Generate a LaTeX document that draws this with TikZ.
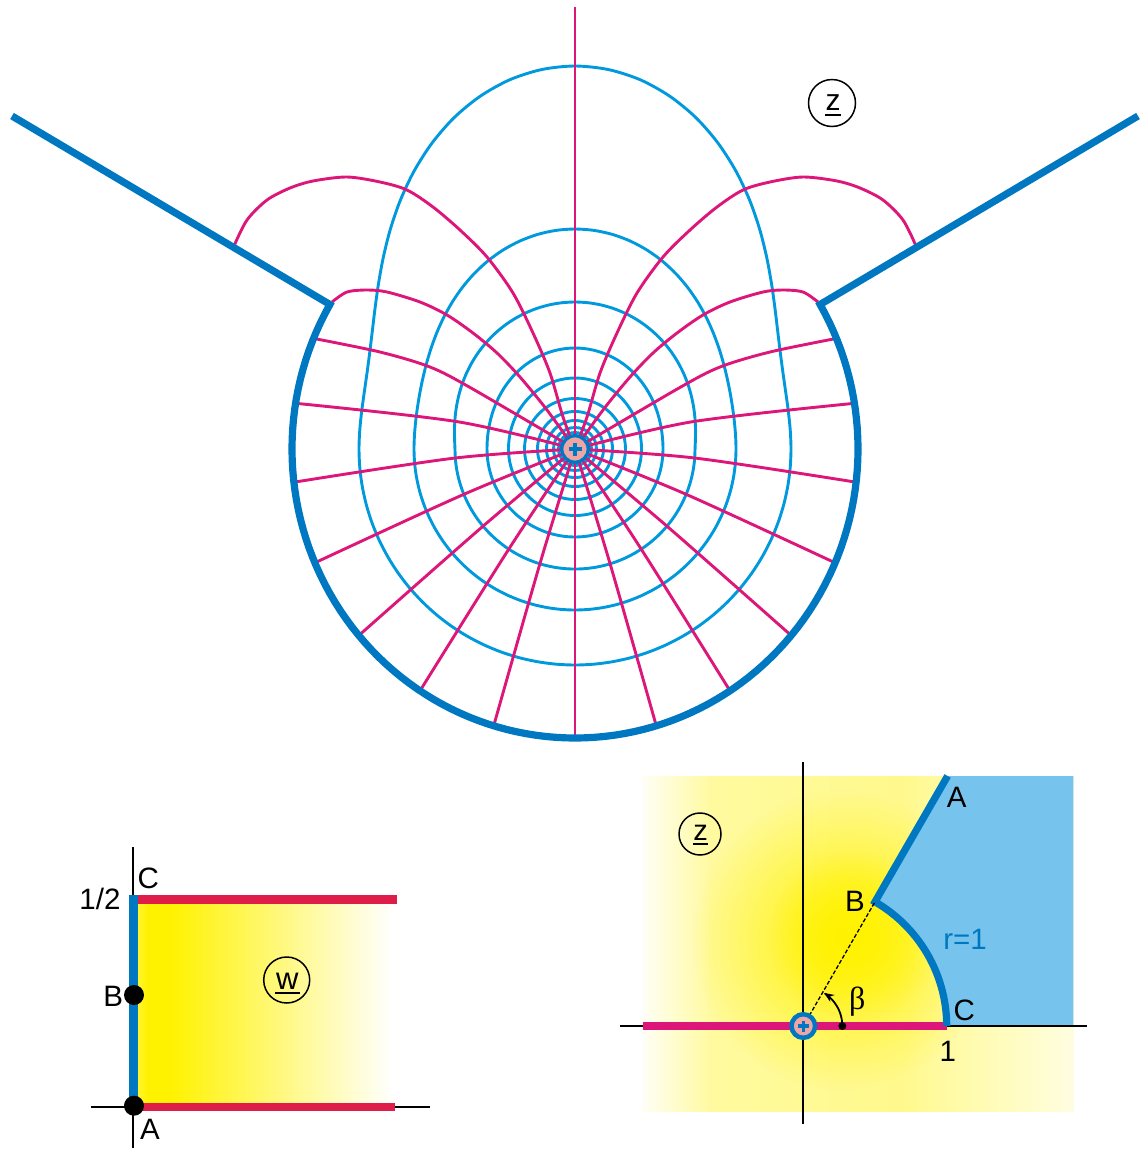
\documentclass[tikz,border=0pt]{standalone}
\usepackage{fontspec}
\setmainfont{Liberation Sans}
\newfontfamily\grkserif{Liberation Serif}
\usetikzlibrary{arrows.meta,fadings}
\definecolor{condblue}{RGB}{0,120,193}
\definecolor{equiblue}{RGB}{0,153,221}
\definecolor{fieldmag}{RGB}{221,22,122}
\definecolor{redline}{RGB}{222,30,72}
\definecolor{yel}{RGB}{255,242,0}
\definecolor{skyblue}{RGB}{118,196,238}
\definecolor{chargepink}{RGB}{240,165,165}
\pgfdeclarehorizontalshading{yhor}{100bp}{color(0bp)=(yel!80!white); color(25bp)=(yel!80!white); color(27bp)=(yel); color(31.5bp)=(yel); color(75bp)=(white); color(100bp)=(white)}
\pgfdeclarehorizontalshading{ybase}{100bp}{color(0bp)=(white); color(25bp)=(yel!4!white); color(33bp)=(yel!38!white); color(55bp)=(yel!45!white); color(75bp)=(yel!12!white); color(100bp)=(yel!12!white)}
\tikzfading[name=spotfade, inner color=transparent!0, outer color=transparent!100]
\tikzset{
  equi/.style={equiblue, line width=2.9},
  fline/.style={fieldmag, line width=2.9},
  cond/.style={condblue, line width=7.2, line join=miter},
  axisline/.style={black, line width=2},
  lbl/.style={inner sep=0, font=\fontsize{29.5}{33}\selectfont},
}
\newcommand\fieldhalf{%
\draw[fline] plot[smooth] coordinates {(575,449) (539.9,563.8) (493.7,725.8)};
\draw[fline] plot[smooth] coordinates {(575,449) (508.8,549.1) (420,690.8)};
\draw[fline] plot[smooth] coordinates {(575,449) (483.1,526.1) (358.8,635.5)};
\draw[fline] plot[smooth] coordinates {(575,449) (463.9,494.3) (314.9,562.8)};
\draw[fline] plot[smooth] coordinates {(575,449) (455.3,458) (293.9,482.2)};
\draw[fline] plot[smooth] coordinates {(575,449) (458.1,421.8) (295.6,403.3)};
\draw[fline] plot[smooth] coordinates {(575,449) (471,388) (430,367) (380,352) (313.5,338.4)};
\draw[fline] plot[smooth] coordinates {(575,449) (547,410) (520,377) (497,353) (473,333) (447,315) (420,302) (387,292) (367,290) (347,292) (332,302)};
\draw[fline] plot[smooth] coordinates {(575,449) (563,417) (550,373) (533,333) (513,293) (487,257) (460,230) (433,207) (407,190) (380,182) (347,177) (313,181) (290,188) (267,200) (247,220) (234,246)};
}
\begin{document}
\begin{tikzpicture}[x=1pt,y=-1pt]
\useasboundingbox (0,0) rectangle (1143,1149);
% ---------- top figure: equipotentials ----------
\foreach \ea/\et/\ep in {216/383/3.2,161/220/2.5,120/147/1.4,88/101/2,66.5/71/2}{
  \draw[equi] plot[smooth cycle, domain=0:355, samples=72, variable=\q]
   ({575+(\ea+(\et-\ea)*pow(max(sin(\q),0.01),\ep))*cos(\q)},{449-(\ea+(\et-\ea)*pow(max(sin(\q),0.01),\ep))*sin(\q)});
}
\foreach \r in {50.5,37.5,28.5,21.5,16.5}{\draw[equi] (575,449) circle (\r);}
% ---------- field lines ----------
\fieldhalf
\begin{scope}[shift={(1150,0)}, xscale=-1]
\fieldhalf
\end{scope}
\coordinate (vtop) at (575,7);
\coordinate (vbot) at (575,738);
\draw[fline] (vbot) -- (vtop);
% ---------- conductor ----------
\coordinate (rayL) at (12,116);
\coordinate (rayR) at (1138,116);
\draw[cond] (rayL) -- plot[domain=150:390, samples=121, variable=\q] ({575+283*cos(\q)},{449-289*sin(\q)}) -- (rayR);
% ---------- charge ----------
\filldraw[fill=chargepink, draw=condblue, line width=3.4] (575,449) circle (13.3);
\draw[condblue, line width=4] (568.5,449) -- (581.5,449) (575,442.5) -- (575,455.5);
% ---------- circled z (top) ----------
\node[draw, circle, line width=1.5, minimum size=47, inner sep=0] (zc1) at (832,103) {};
\node[anchor=base, inner sep=0, font=\fontsize{30}{32}\selectfont] (zl1) at (833,110.5) {z};
\draw[line width=2] (825,115) -- (841,115);

% ---------- bottom-left: w plane ----------
\shade[shading=yhor] (137,903) rectangle (393,1103);
\coordinate (wv1) at (133,847);
\coordinate (wv2) at (133,1148);
\coordinate (wh1) at (91,1107);
\coordinate (wh2) at (430,1107);
\draw[axisline] (wv1) -- (wv2);
\draw[axisline] (wh1) -- (wh2);
\coordinate (wC) at (137,899.3);
\coordinate (wCe) at (397,899.3);
\coordinate (wA) at (137,1107.3);
\coordinate (wAe) at (395,1107.3);
\draw[redline, line width=9] (wC) -- (wCe);
\draw[redline, line width=8] (wA) -- (wAe);
\coordinate (wtop) at (133.3,895);
\coordinate (wbot) at (133.3,1105);
\draw[condblue, line width=8.5] (wtop) -- (wbot);
\fill (134,995) circle (10);
\fill (134,1105.7) circle (10);
\node[lbl] (lC1) at (148.3,878.3) {C};
\node[lbl] (lhalf) at (100,899.3) {1/2};
\node[lbl] (lB1) at (113.3,996.7) {B};
\node[lbl] (lA1) at (150,1129.3) {A};
\node[draw, circle, line width=1.5, minimum size=46, inner sep=0] (wc) at (286.7,980) {};
\node[anchor=base, inner sep=0, font=\fontsize{31}{33}\selectfont] (wl) at (287.3,989.5) {w};
\draw[line width=2] (275,993) -- (300,993);

% ---------- bottom-right: z plane ----------
\begin{scope}
\clip (643.3,776) rectangle (1073.3,1111.7);
\shade[shading=ybase] (643.3,776) rectangle (1073.3,1111.7);
\fill[yel, path fading=spotfade] (842,940) circle (150);
\fill[yel, path fading=spotfade] (855,935) circle (85);
\end{scope}
\coordinate (O2) at (803.3,1026);
\coordinate (C2) at (946.7,1026);
\coordinate (B2) at (875,901.8);
\coordinate (A2) at (947.6,776);
\fill[skyblue] (A2) -- (1073.3,776) -- (1073.3,1026) -- (C2) -- plot[domain=0:60, samples=31, variable=\q] ({803.3+143.4*cos(\q)},{1026-143.4*sin(\q)}) -- cycle;
\coordinate (zh1) at (620,1026);
\coordinate (zh2) at (1086.7,1026);
\coordinate (zv1) at (803.3,761.7);
\coordinate (zv2) at (803.3,1124);
\draw[axisline] (zh1) -- (zh2);
\draw[axisline] (zv1) -- (zv2);
\coordinate (zm1) at (643.3,1026);
\draw[fieldmag, line width=7.3] (zm1) -- (C2);
\draw[cond] (A2) -- plot[domain=60:0, samples=31, variable=\q] ({803.3+143.4*cos(\q)},{1026-143.4*sin(\q)});
\draw[black, line width=1.3, dash pattern=on 4pt off 2pt] (O2) -- (B2);
\draw[black, line width=1.8, -{Stealth[length=10pt,width=8pt]}] plot[domain=0:58, samples=30, variable=\q] ({803.3+39*cos(\q)},{1026-39*sin(\q)});
\fill (842.3,1026) circle (4);
\filldraw[fill=chargepink, draw=condblue, line width=4.5] (O2) circle (11.8);
\draw[condblue, line width=3.5] (797.8,1026) -- (808.8,1026) (803.3,1020.5) -- (803.3,1031.5);
\node[lbl] (lA2) at (956.7,797.3) {A};
\node[lbl] (lB2) at (855,901.7) {B};
\node[lbl] (lC2) at (964.3,1010.7) {C};
\node[lbl] (l12) at (947.7,1051.7) {1};
\node[lbl, text=condblue] (lr) at (965,939) {r=1};
\node[inner sep=0, font=\grkserif\fontsize{32}{36}\selectfont] (lbeta) at (857.3,1002) {β};
\node[draw, circle, line width=1.5, minimum size=42, inner sep=0] (zc2) at (700,834) {};
\node[anchor=base, inner sep=0, font=\fontsize{29}{31}\selectfont] (zl2) at (700.5,840) {z};
\draw[line width=2] (693,844.3) -- (708,844.3);
\end{tikzpicture}
\end{document}
